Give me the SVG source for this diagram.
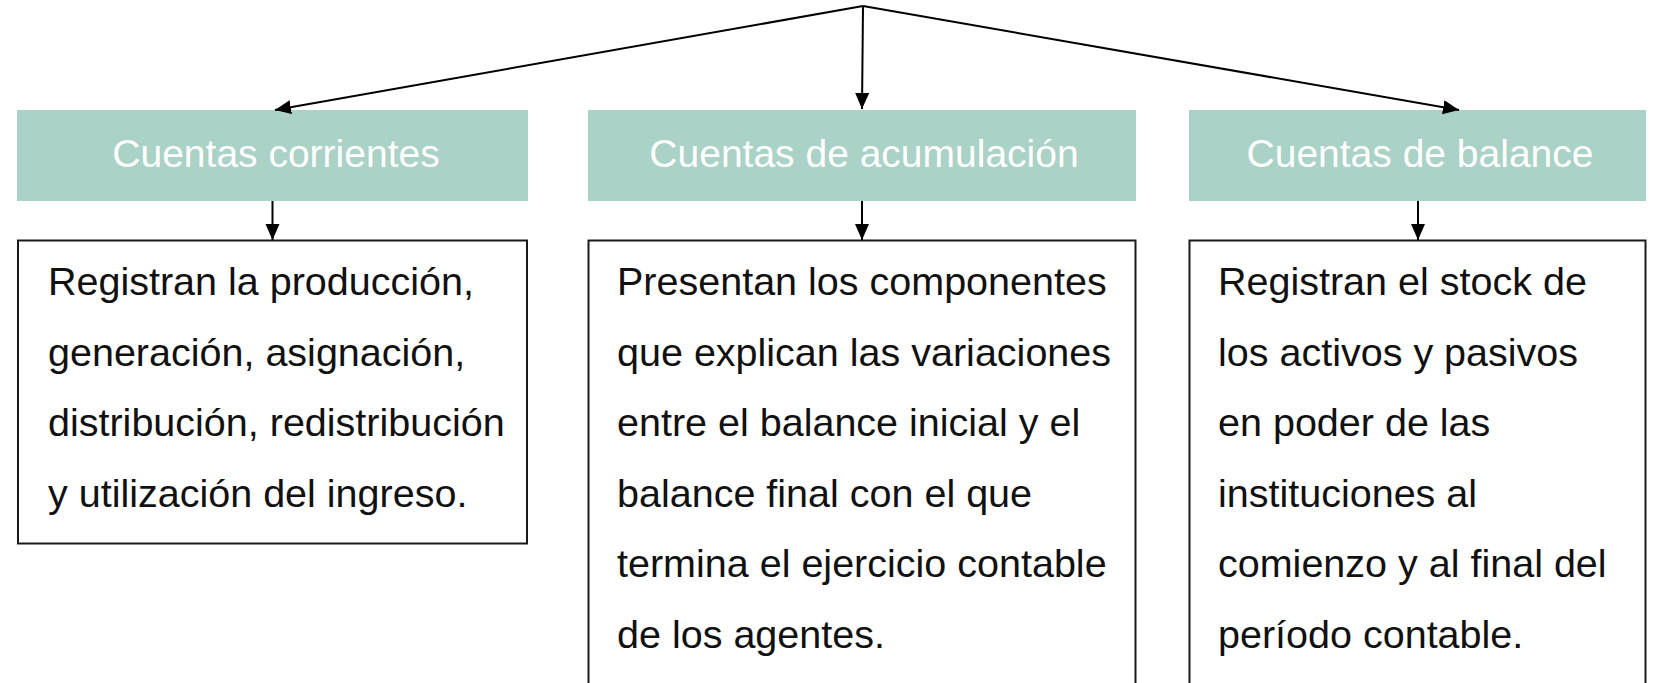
<svg xmlns="http://www.w3.org/2000/svg" width="1657" height="683" viewBox="0 0 1657 683">
<style>
.hdr{fill:#AAD2C6}
.hdrtxt{font-family:"Liberation Sans",Arial,sans-serif;font-size:39px;fill:#ffffff;text-anchor:middle}
.box{fill:#ffffff;stroke:#1a1a1a;stroke-width:2}
.txt{font-family:"Liberation Sans",Arial,sans-serif;font-size:39.5px;fill:#111111}
.conn{stroke:#000000;stroke-width:2;fill:none}
</style>
<defs>
<marker id="arr" markerUnits="userSpaceOnUse" markerWidth="18" markerHeight="16" refX="16" refY="7" orient="auto">
<path d="M0,0 L16,7 L0,14 Z" fill="#000000"/>
</marker>
</defs>
<rect width="1657" height="683" fill="#ffffff"/>
<g id="node-corrientes">
<rect class="hdr" x="17" y="110" width="511" height="91"/>
<text class="hdrtxt" x="276" y="167">Cuentas corrientes</text>
</g>
<g id="node-acumulacion">
<rect class="hdr" x="588" y="110" width="548" height="91"/>
<text class="hdrtxt" x="864" y="167">Cuentas de acumulación</text>
</g>
<g id="node-balance">
<rect class="hdr" x="1189" y="110" width="457" height="91"/>
<text class="hdrtxt" x="1420" y="167">Cuentas de balance</text>
</g>
<g id="desc-corrientes">
<rect class="box" x="18" y="240.5" width="509" height="303"/>
<text class="txt" x="48" y="295">Registran la producción,</text>
<text class="txt" x="48" y="365.5">generación, asignación,</text>
<text class="txt" x="48" y="436">distribución, redistribución</text>
<text class="txt" x="48" y="506.5">y utilización del ingreso.</text>
</g>
<g id="desc-acumulacion">
<rect class="box" x="588.5" y="240.5" width="547" height="460"/>
<text class="txt" x="617" y="295">Presentan los componentes</text>
<text class="txt" x="617" y="365.5">que explican las variaciones</text>
<text class="txt" x="617" y="436">entre el balance inicial y el</text>
<text class="txt" x="617" y="506.5">balance final con el que</text>
<text class="txt" x="617" y="577">termina el ejercicio contable</text>
<text class="txt" x="617" y="647.5">de los agentes.</text>
</g>
<g id="desc-balance">
<rect class="box" x="1189.5" y="240.5" width="456" height="460"/>
<text class="txt" x="1218" y="295">Registran el stock de</text>
<text class="txt" x="1218" y="365.5">los activos y pasivos</text>
<text class="txt" x="1218" y="436">en poder de las</text>
<text class="txt" x="1218" y="506.5">instituciones al</text>
<text class="txt" x="1218" y="577">comienzo y al final del</text>
<text class="txt" x="1218" y="647.5">período contable.</text>
</g>
<g id="connectors">
<line class="conn" x1="863" y1="6" x2="275" y2="110" marker-end="url(#arr)"/>
<line class="conn" x1="863" y1="6" x2="862" y2="109" marker-end="url(#arr)"/>
<line class="conn" x1="863" y1="6" x2="1459" y2="110" marker-end="url(#arr)"/>
<line class="conn" x1="272.5" y1="201" x2="272.5" y2="240" marker-end="url(#arr)"/>
<line class="conn" x1="862" y1="201" x2="862" y2="240" marker-end="url(#arr)"/>
<line class="conn" x1="1418" y1="201" x2="1418" y2="240" marker-end="url(#arr)"/>
</g>
</svg>
